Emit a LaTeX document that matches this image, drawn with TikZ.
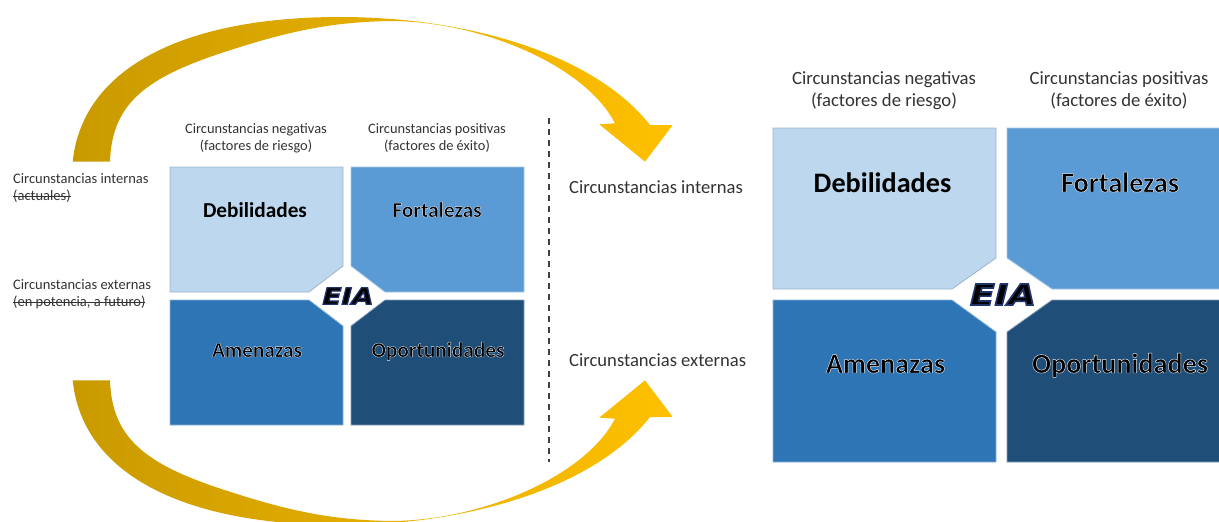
\documentclass[tikz,border=0pt]{standalone}
\usepackage{fontspec}
\setmainfont{Carlito}
\newfontfamily\eiafont[FakeStretch=1.24]{DejaVu Sans Bold Oblique}

\definecolor{goldL}{HTML}{C99A00}
\definecolor{goldR}{HTML}{FFC000}
\definecolor{debil}{HTML}{BDD7EE}
\definecolor{fort}{HTML}{5B9BD5}
\definecolor{amen}{HTML}{2E75B6}
\definecolor{oport}{HTML}{1F4E79}
\definecolor{debilEdge}{HTML}{9FB4CB}
\definecolor{txt}{HTML}{333333}
\definecolor{dash}{HTML}{404040}

% text filled black with a thin coloured rim (fill+stroke render mode)
\newcommand\haloed[3]{{\special{pdf:literal direct 2 Tr #2 RG #1 w}#3\special{pdf:literal direct 0 Tr}}}

% struck-through text
\newsavebox\strikebox
\newcommand\struck[1]{\sbox\strikebox{#1}\rlap{\rule[0.27em]{\wd\strikebox}{0.6pt}}\usebox\strikebox}

% curved gold arrow: thick tail on the left, thin crest, head on the right
\newcommand\goldarrow{%
  \shade[left color=goldL, right color=goldR]
    (72.7,161.7) .. controls (82,70) and (180,17) .. (340,17)
    .. controls (470,17) and (595,55) .. (650,125)
    -- (672.7,125) -- (645,161.7) -- (599.3,124.3) -- (615,123.3)
    .. controls (585,65) and (480,21) .. (390,21)
    .. controls (340,22) and (300,28) .. (237,48)
    .. controls (150,75) and (112,100) .. (110,161.7) -- cycle;}

\begin{document}
\begin{tikzpicture}[x=1pt, y=-1pt,
  cell/.style={line width=0.8pt, line join=miter},
  hdrS/.style={font=\fontsize{14.4}{17}\selectfont, text=txt, align=center, inner sep=0pt},
  hdrL/.style={font=\fontsize{18.7}{22}\selectfont, text=txt, align=center, inner sep=0pt},
  sideS/.style={font=\fontsize{14.5}{17}\selectfont, text=txt, align=left, inner sep=0pt},
  sideL/.style={font=\fontsize{18.6}{22}\selectfont, text=txt, inner sep=0pt},
  tagS/.style={font=\fontsize{21.3}{25}\selectfont\bfseries, text=black, inner sep=0pt},
  tagL/.style={font=\fontsize{28.2}{32}\selectfont\bfseries, text=black, inner sep=0pt},
  eiaS/.style={font=\eiafont\fontsize{22.5}{24}\selectfont, text=black, inner sep=0pt},
  eiaL/.style={font=\eiafont\fontsize{29}{30}\selectfont, text=black, inner sep=0pt},
  divider/.style={draw=dash, line width=1.2pt, dash pattern=on 6pt off 5pt}]

\useasboundingbox (0,0) rectangle (1219,522);

% ---- arrows from the left matrix to the right one
\goldarrow
\begin{scope}[shift={(0,542)}, yscale=-1]
  \goldarrow
\end{scope}

% ---- left matrix
\draw[cell, fill=debil, draw=debilEdge] (170,167) -- (343,167) -- (343,266) -- (309,292) -- (170,292) -- cycle;
\draw[cell, fill=fort, draw=white!45!fort] (351,167) -- (524,167) -- (524,292) -- (385,292) -- (351,266) -- cycle;
\draw[cell, fill=amen, draw=white!45!amen] (170,300) -- (309,300) -- (343,326) -- (343,425) -- (170,425) -- cycle;
\draw[cell, fill=oport, draw=white!45!oport] (351,326) -- (385,300) -- (524,300) -- (524,425) -- (351,425) -- cycle;

\node[tagS, anchor=base] (debS) at (255,217) {Debilidades};
\node[tagS, anchor=base] (forS) at (437,217) {\haloed{0.35}{0.92 0.95 0.98}{Fortalezas}};
\node[tagS, anchor=base] (ameS) at (257,357) {\haloed{0.35}{0.92 0.95 0.98}{Amenazas}};
\node[tagS, anchor=base] (opoS) at (438,357) {\haloed{0.35}{0.92 0.95 0.98}{Oportunidades}};
\node[eiaS] (eiaS) at (348,296) {\haloed{1.3}{0.13 0.2 0.42}{EIA}};

\node[hdrS] (negS) at (256,138.5) {Circunstancias negativas\\(factores de riesgo)};
\node[hdrS] (posS) at (437,138.5) {Circunstancias positivas\\(factores de éxito)};

\node[sideS, anchor=west] (intS) at (13,188.5) {Circunstancias internas\\\struck{(actuales)}};
\node[sideS, anchor=west] (extS) at (13,294.5) {Circunstancias externas\\\struck{(en potencia, a futuro)}};

% ---- divider
\coordinate (dtop) at (549,118);
\coordinate (dbot) at (549,462);
\draw[divider] (dtop) -- (dbot);

% ---- middle row labels
\node[sideL, anchor=base west] (intL) at (569,193.5) {Circunstancias internas};
\node[sideL, anchor=base west] (extL) at (569,366.5) {Circunstancias externas};

% ---- right matrix
\draw[cell, fill=debil, draw=debilEdge] (773,128) -- (996,128) -- (996,258) -- (952,289) -- (773,289) -- cycle;
\draw[cell, fill=fort, draw=white!45!fort] (1007,128) -- (1222,128) -- (1222,289) -- (1052,289) -- (1007,258) -- cycle;
\draw[cell, fill=amen, draw=white!45!amen] (773,300) -- (952,300) -- (996,332) -- (996,462) -- (773,462) -- cycle;
\draw[cell, fill=oport, draw=white!45!oport] (1007,332) -- (1052,300) -- (1222,300) -- (1222,462) -- (1007,462) -- cycle;

\node[tagL, anchor=base] (debL) at (882.5,192) {Debilidades};
\node[tagL, anchor=base] (forL) at (1120,192) {\haloed{0.45}{0.92 0.95 0.98}{Fortalezas}};
\node[tagL, anchor=base] (ameL) at (885.5,373) {\haloed{0.45}{0.92 0.95 0.98}{Amenazas}};
\node[tagL, anchor=base] (opoL) at (1120,373) {\haloed{0.45}{0.92 0.95 0.98}{Oportunidades}};
\node[eiaL] (eiaL) at (1003,294.5) {\haloed{1.7}{0.13 0.2 0.42}{EIA}};

\node[hdrL] (negL) at (884,90.5) {Circunstancias negativas\\(factores de riesgo)};
\node[hdrL] (posL) at (1119,90.5) {Circunstancias positivas\\(factores de éxito)};
\end{tikzpicture}
\end{document}
